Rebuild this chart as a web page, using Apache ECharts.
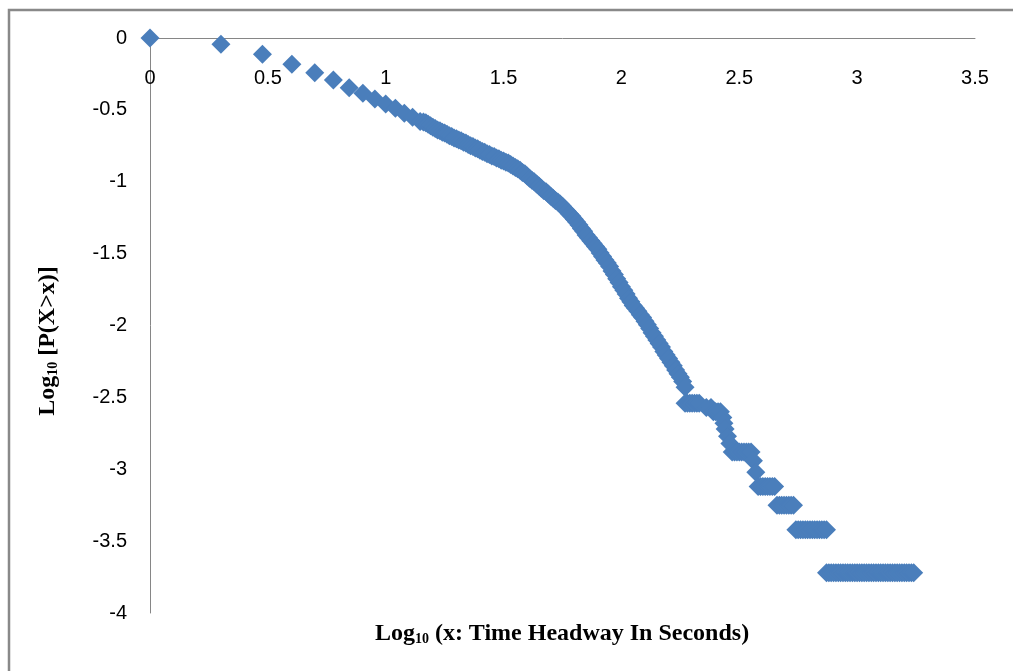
<!DOCTYPE html>
<html>
    <head>
        <meta charset="utf-8">
        <title>Time headway distribution</title>
        <script src="https://cdn.jsdelivr.net/npm/echarts@6/dist/echarts.min.js"></script>
        <style>
            html, body { margin: 0; padding: 0; background: #fff; }
            #chart1 { width: 1013px; height: 671px; }
        </style>
    </head>
    <body>
        <div id="chart1"></div>
    </body>
    <script type="text/javascript">
        // axis ticks
        var xTicks = [0, 0.5, 1, 1.5, 2, 2.5, 3, 3.5];
        var yTicks = [0, -0.5, -1, -1.5, -2, -2.5, -3, -3.5, -4];

        // first few headways, one diamond each: [log10 x, log10 P(X>x)]
        var headPts = [
            [0, 0], [0.301, -0.044], [0.477, -0.113], [0.602, -0.183], [0.699, -0.241],
            [0.778, -0.292], [0.845, -0.346], [0.903, -0.385], [0.954, -0.424], [1.0, -0.459],
            [1.041, -0.489], [1.079, -0.524], [1.114, -0.552], [1.146, -0.58]
        ];

        // dense part of the curve
        var curvePts = [
            [1.16, -0.585], [1.17, -0.59], [1.18, -0.60], [1.19, -0.61], [1.20, -0.62],
            [1.21, -0.63], [1.22, -0.64], [1.23, -0.645], [1.24, -0.655], [1.25, -0.66],
            [1.26, -0.67], [1.27, -0.68], [1.28, -0.685], [1.29, -0.695], [1.30, -0.70],
            [1.31, -0.71], [1.32, -0.715], [1.33, -0.725], [1.34, -0.73], [1.35, -0.74],
            [1.36, -0.75], [1.37, -0.755], [1.38, -0.765], [1.39, -0.77], [1.40, -0.78],
            [1.41, -0.79], [1.42, -0.795], [1.43, -0.805], [1.44, -0.81], [1.45, -0.82],
            [1.46, -0.825], [1.47, -0.835], [1.48, -0.84], [1.49, -0.85], [1.50, -0.855],
            [1.51, -0.865], [1.52, -0.87], [1.53, -0.88], [1.54, -0.89], [1.55, -0.90],
            [1.56, -0.91], [1.57, -0.92], [1.58, -0.935], [1.59, -0.945], [1.60, -0.96],
            [1.61, -0.975], [1.62, -0.99], [1.63, -1.00], [1.64, -1.015], [1.65, -1.03],
            [1.66, -1.045], [1.67, -1.06], [1.68, -1.07], [1.69, -1.085], [1.70, -1.10],
            [1.71, -1.115], [1.72, -1.13], [1.73, -1.14], [1.74, -1.155], [1.75, -1.17],
            [1.76, -1.19], [1.77, -1.205], [1.78, -1.225], [1.79, -1.24], [1.80, -1.26],
            [1.81, -1.28], [1.82, -1.30], [1.83, -1.325], [1.84, -1.345], [1.85, -1.37],
            [1.86, -1.39], [1.87, -1.41], [1.88, -1.43], [1.89, -1.45], [1.90, -1.47],
            [1.91, -1.495], [1.92, -1.52], [1.93, -1.545], [1.94, -1.565], [1.95, -1.59],
            [1.96, -1.62], [1.97, -1.645], [1.98, -1.675], [1.99, -1.70], [2.00, -1.73],
            [2.01, -1.755], [2.02, -1.78], [2.03, -1.81], [2.04, -1.835], [2.05, -1.86],
            [2.06, -1.88], [2.07, -1.90], [2.08, -1.925], [2.09, -1.945], [2.10, -1.97],
            [2.11, -1.995], [2.12, -2.02], [2.13, -2.05], [2.14, -2.075], [2.15, -2.10],
            [2.16, -2.125], [2.17, -2.15], [2.18, -2.18], [2.19, -2.205], [2.20, -2.23],
            [2.21, -2.255], [2.22, -2.28], [2.23, -2.31], [2.24, -2.335], [2.25, -2.36],
            [2.26, -2.39], [2.27, -2.43]
        ];

        // stair-step tail (few observations left)
        var tailPts = [
            [2.27, -2.54], [2.28, -2.54], [2.29, -2.54], [2.30, -2.54], [2.31, -2.54], [2.32, -2.54], [2.33, -2.54],
            [2.36, -2.57], [2.38, -2.57],
            [2.39, -2.60], [2.40, -2.60], [2.41, -2.60], [2.42, -2.60],
            [2.43, -2.64], [2.435, -2.68], [2.44, -2.72], [2.45, -2.77], [2.46, -2.82],
            [2.47, -2.88], [2.48, -2.88], [2.49, -2.88], [2.50, -2.88], [2.51, -2.88],
            [2.52, -2.88], [2.53, -2.88], [2.54, -2.88], [2.55, -2.88],
            [2.56, -2.94], [2.57, -3.02],
            [2.58, -3.12], [2.59, -3.12], [2.60, -3.12], [2.61, -3.12], [2.62, -3.12],
            [2.63, -3.12], [2.64, -3.12], [2.65, -3.12],
            [2.66, -3.25], [2.67, -3.25], [2.68, -3.25], [2.69, -3.25], [2.70, -3.25],
            [2.71, -3.25], [2.72, -3.25], [2.73, -3.25],
            [2.74, -3.42], [2.75, -3.42], [2.76, -3.42], [2.77, -3.42], [2.78, -3.42],
            [2.79, -3.42], [2.80, -3.42], [2.81, -3.42], [2.82, -3.42], [2.83, -3.42],
            [2.84, -3.42], [2.85, -3.42], [2.86, -3.42], [2.87, -3.42],
            [2.87, -3.72], [2.88, -3.72], [2.89, -3.72], [2.90, -3.72], [2.91, -3.72],
            [2.92, -3.72], [2.93, -3.72], [2.94, -3.72], [2.95, -3.72], [2.96, -3.72],
            [2.97, -3.72], [2.98, -3.72], [2.99, -3.72], [3.00, -3.72], [3.01, -3.72],
            [3.02, -3.72], [3.03, -3.72], [3.04, -3.72], [3.05, -3.72], [3.06, -3.72],
            [3.07, -3.72], [3.08, -3.72], [3.09, -3.72], [3.10, -3.72], [3.11, -3.72],
            [3.12, -3.72], [3.13, -3.72], [3.14, -3.72], [3.15, -3.72], [3.16, -3.72],
            [3.17, -3.72], [3.18, -3.72], [3.19, -3.72], [3.20, -3.72], [3.21, -3.72],
            [3.22, -3.72], [3.23, -3.72], [3.24, -3.72]
        ];

        var myChart1 = echarts.init(document.getElementById('chart1'));

        var titleRich = {
            a: { fontFamily: 'Liberation Serif', fontWeight: 'bold', fontSize: 24, color: '#000', verticalAlign: 'bottom', lineHeight: 26 },
            s: { fontFamily: 'Liberation Serif', fontWeight: 'bold', fontSize: 14, color: '#000', verticalAlign: 'bottom', lineHeight: 26 }
        };

        myChart1.setOption({
            animation: false,
            grid: { left: 150, top: 38, width: 825, height: 575 },
            xAxis: {
                type: 'value',
                position: 'top',
                min: xTicks[0],
                max: xTicks[xTicks.length - 1],
                interval: 0.5,
                axisLine: { onZero: false, lineStyle: { color: '#868686', width: 1 } },
                axisTick: { show: false },
                splitLine: { show: false },
                axisLabel: { inside: true, fontFamily: 'Liberation Sans', fontSize: 20, color: '#000', margin: 30 }
            },
            yAxis: {
                type: 'value',
                min: yTicks[yTicks.length - 1],
                max: yTicks[0],
                interval: 0.5,
                axisLine: { show: true, onZero: false, lineStyle: { color: '#868686', width: 1 } },
                axisTick: { show: false },
                splitLine: { show: false },
                axisLabel: { fontFamily: 'Liberation Sans', fontSize: 20, color: '#000', margin: 23 }
            },
            graphic: [
                {
                    type: 'rect',
                    shape: { x: 9, y: 10, width: 1200, height: 900 },
                    style: { fill: 'none', stroke: '#898989', lineWidth: 2.5 },
                    silent: true
                },
                {
                    type: 'text',
                    x: 562, y: 633,
                    style: {
                        text: '{a|Log}{s|10}{a| (x: Time Headway In Seconds)}',
                        rich: titleRich,
                        align: 'center',
                        verticalAlign: 'middle'
                    }
                },
                {
                    type: 'text',
                    x: 47, y: 341,
                    rotation: Math.PI / 2,
                    style: {
                        text: '{a|Log}{s|10}{a| [P(X>x)]}',
                        rich: titleRich,
                        align: 'center',
                        verticalAlign: 'middle'
                    }
                }
            ],
            series: [{
                type: 'scatter',
                symbol: 'diamond',
                symbolSize: 19,
                itemStyle: { color: '#4A7EBB', opacity: 1 },
                emphasis: { disabled: true },
                data: headPts.concat(curvePts, tailPts)
            }]
        });
    </script>
</html>
